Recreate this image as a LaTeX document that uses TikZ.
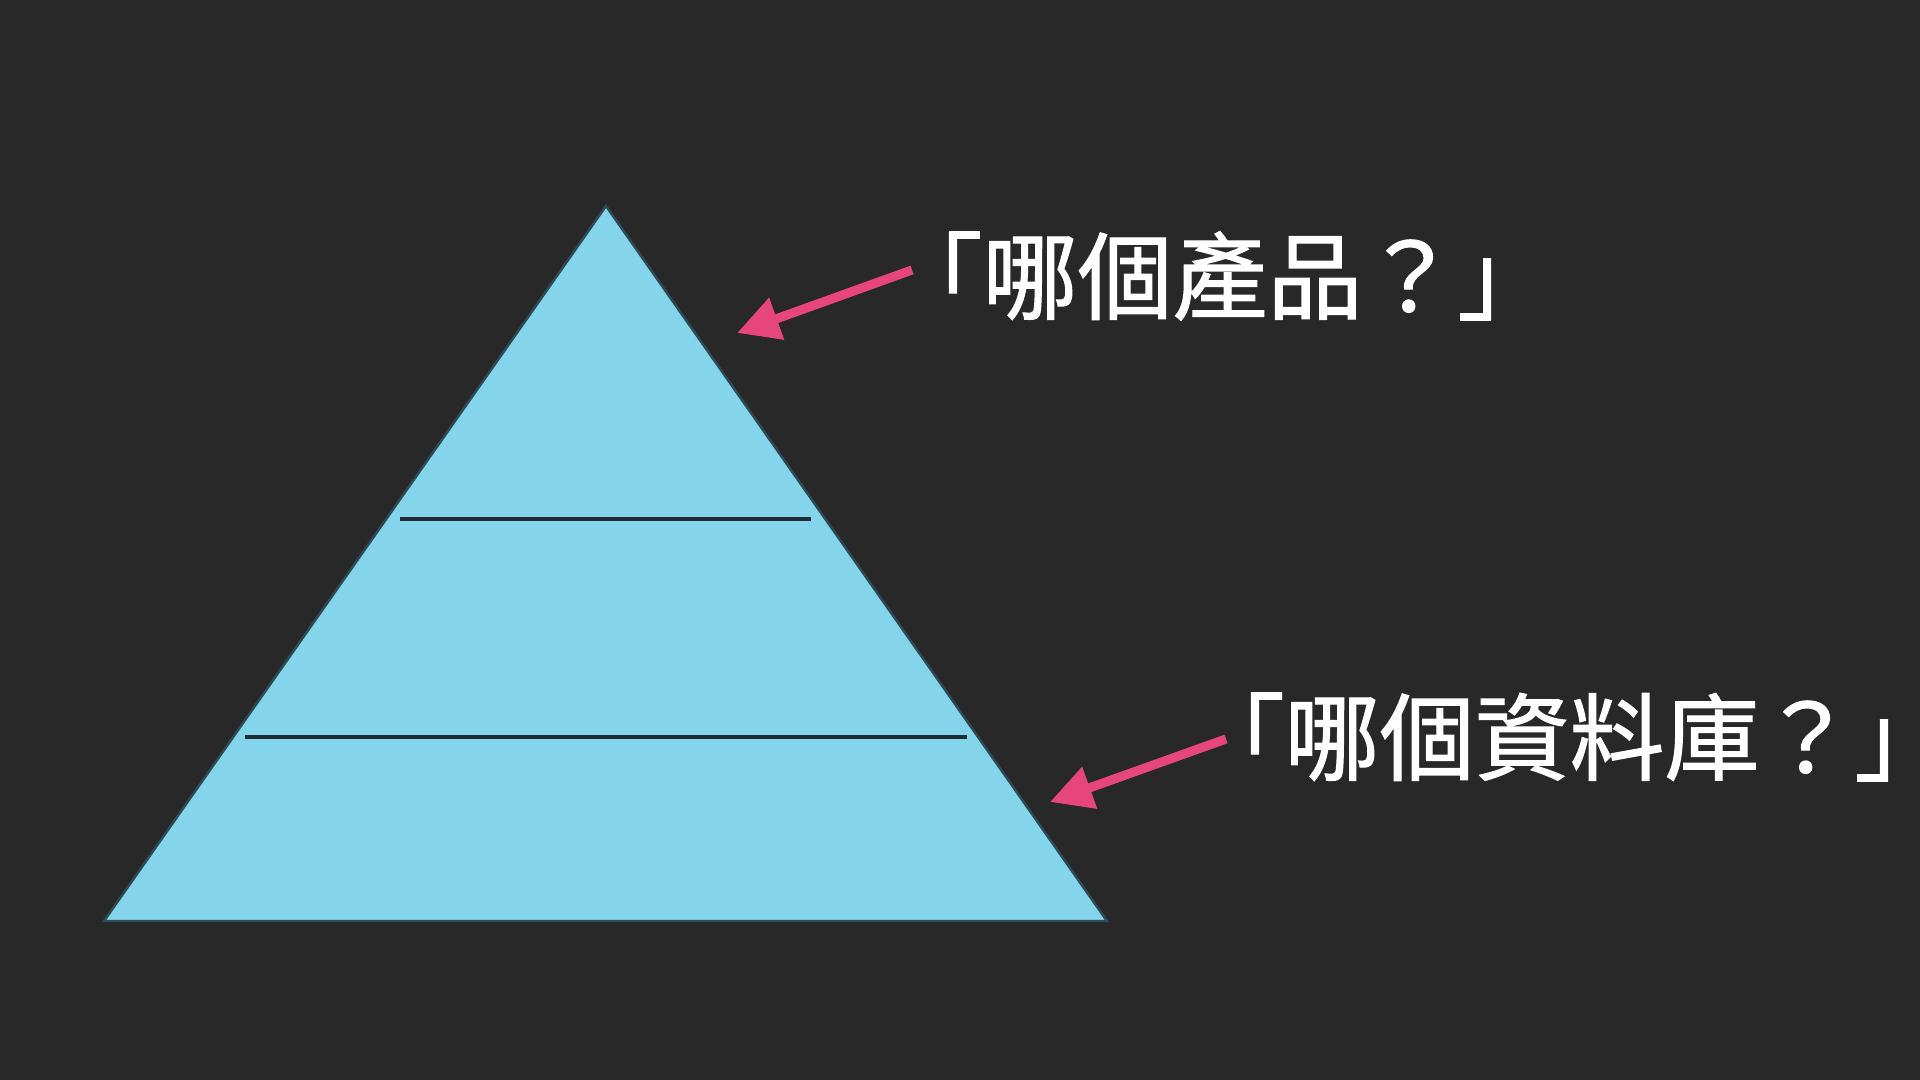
\documentclass[tikz,border=0pt]{standalone}
\usepackage{fontspec}
\usepackage{tikz}
\usetikzlibrary{arrows.meta}
\usetikzlibrary{positioning}
\newfontfamily\cjk[FakeBold=1.2]{Noto Sans CJK TC}

\definecolor{slidebg}{HTML}{282828}
\definecolor{pyrfill}{HTML}{84D5EC}
\definecolor{pyredge}{HTML}{2E4A55}
\definecolor{levelline}{HTML}{1F2C31}
\definecolor{pointer}{HTML}{E6467B}

\tikzset{
	pyramid/.style={fill=pyrfill, draw=pyredge, line width=0.7pt, line join=miter},
	level/.style={draw=levelline, line width=1.2pt},
	question/.style={text=white, inner sep=0pt, font=\cjk\fontsize{27}{30}\selectfont},
	pointy/.style={draw=pointer, line width=2.6pt, -{Triangle[length=12pt, width=12pt]}}
}

\begin{document}
\begin{tikzpicture}[x=0.01cm, y=-0.01cm]

					% background
					\useasboundingbox (0,0) rectangle (1920,1080);
					\fill[slidebg] (0,0) rectangle (1920,1080);

					% pyramid
					\coordinate (apex) at (606,206);
					\coordinate (bl) at (104,921);
					\coordinate (br) at (1107,921);
					\path[pyramid] (apex) -- (bl) -- (br) -- cycle;

					\coordinate (l1a) at (400,519);
					\coordinate (l1b) at (811,519);
					\coordinate (l2a) at (245,737);
					\coordinate (l2b) at (967,737);
					\draw[level] (l1a) -- (l1b);
					\draw[level] (l2a) -- (l2b);

					% questions (closing bracket has blank space on its right)
					\node[question, anchor=west] (q1) at (887,276) {「哪個產品？」\kern-0.4em};
					\node[question, anchor=west] (q2) at (1189,737) {「哪個資料庫？」\kern-0.4em};

					\coordinate (tail1) at (912,270);
					\coordinate (tip1) at (737,333);
					\coordinate (tail2) at (1226,739);
					\coordinate (tip2) at (1050,802);
					\draw[pointy] (tail1) -- (tip1);
					\draw[pointy] (tail2) -- (tip2);
				\end{tikzpicture}
\end{document}
